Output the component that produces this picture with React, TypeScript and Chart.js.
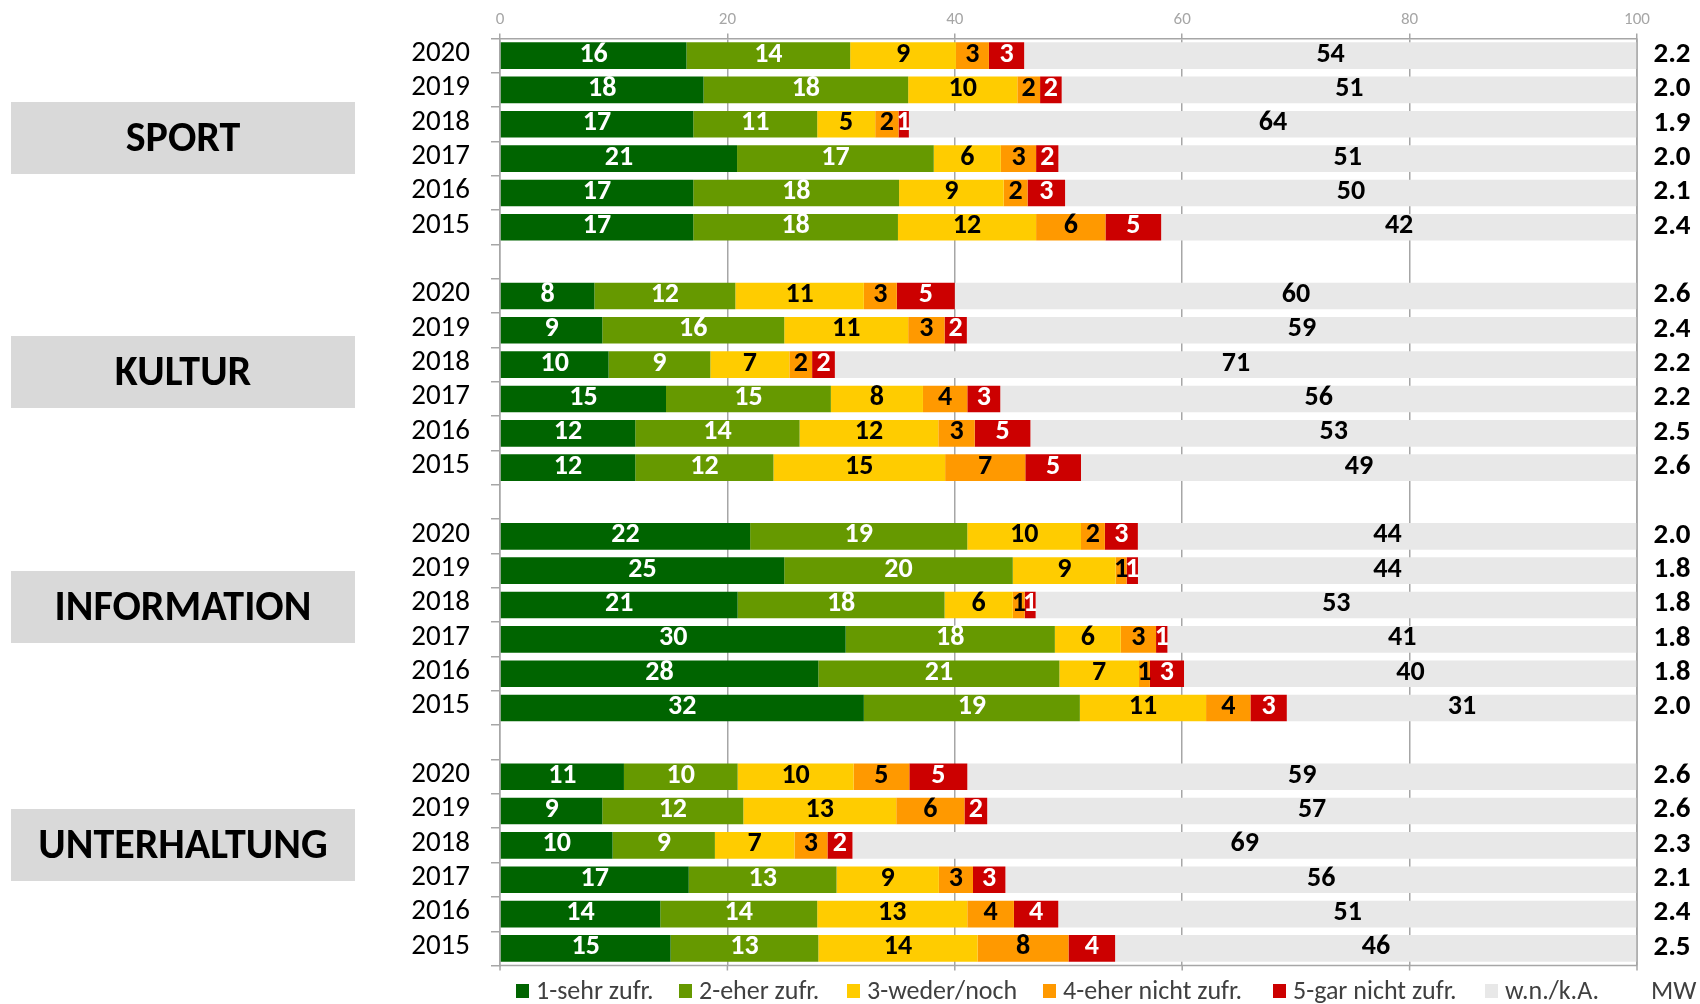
import React, { useEffect, useRef } from 'react';
import { Chart, registerables } from 'chart.js';

Chart.register(...registerables);

const FONT = 'Carlito, Lato, "Open Sans", sans-serif';

// ---------- data ----------
const groups = ['SPORT', 'KULTUR', 'INFORMATION', 'UNTERHALTUNG'];
const years = ['2020', '2019', '2018', '2017', '2016', '2015'];

// values in % (order: SPORT 2020..2015, KULTUR 2020..2015, INFORMATION ..., UNTERHALTUNG ...)
const sehrZufr = [
  16.4, 17.9, 17.0, 20.85, 17.0, 17.0,
  8.3, 9.0, 9.55, 14.6, 11.9, 11.9,
  22.0, 25.0, 20.9, 30.4, 28.0, 32.0,
  10.9, 9.0, 9.9, 16.6, 14.1, 15.0,
];
const eherZufr = [
  14.4, 18.0, 10.9, 17.3, 18.1, 18.0,
  12.4, 16.0, 8.95, 14.5, 14.45, 12.15,
  19.1, 20.1, 18.2, 18.4, 21.2, 19.0,
  10.0, 12.4, 9.0, 13.0, 13.8, 13.0,
];
const wederNoch = [
  9.3, 9.6, 5.1, 5.9, 9.2, 12.15,
  11.3, 10.9, 6.95, 8.1, 12.2, 15.1,
  10.0, 9.05, 6.0, 5.8, 7.0, 11.1,
  10.2, 13.45, 7.0, 9.0, 13.2, 14.0,
];
const eherNichtZufr = [
  2.9, 2.0, 2.05, 3.1, 2.1, 6.1,
  2.9, 3.2, 2.0, 3.9, 3.2, 7.05,
  2.1, 0.96, 1.05, 3.1, 0.96, 3.9,
  4.9, 6.0, 2.9, 3.0, 4.1, 8.0,
];
const garNichtZufr = [
  3.1, 1.9, 0.91, 1.96, 3.3, 4.9,
  5.1, 1.96, 2.0, 2.9, 4.9, 4.9,
  2.9, 1.0, 0.96, 1.0, 3.0, 3.2,
  5.1, 2.0, 2.2, 2.85, 3.9, 4.1,
];
const wnKA = [
  53.9, 50.6, 64.04, 50.89, 50.3, 41.85,
  60.0, 58.94, 70.55, 56.0, 53.35, 48.9,
  43.9, 43.89, 52.89, 41.3, 39.84, 30.8,
  58.9, 57.15, 69.0, 55.55, 50.9, 45.9,
];
const mwValues = [
  2.2, 2.0, 1.9, 2.0, 2.1, 2.4,
  2.6, 2.4, 2.2, 2.2, 2.5, 2.6,
  2.0, 1.8, 1.8, 1.8, 1.8, 2.0,
  2.6, 2.6, 2.3, 2.1, 2.4, 2.5,
];

const seriesNames = ['1-sehr zufr.', '2-eher zufr.', '3-weder/noch', '4-eher nicht zufr.', '5-gar nicht zufr.', 'w.n./k.A.'];
const mwLabel = 'MW';
const seriesData = [sehrZufr, eherZufr, wederNoch, eherNichtZufr, garNichtZufr, wnKA];

// ---------- styles ----------
const seriesColors = ['#006400', '#669900', '#ffcc00', '#ff9900', '#cc0000', '#e8e8e8'];
const labelColors = ['#ffffff', '#ffffff', '#000000', '#000000', '#ffffff', '#000000'];
const GRID = '#a6a6a6';

// layout constants (decorations, not data)
const BOX_LEFT = 11;
const BOX_WIDTH = 344;
const BOX_HEIGHT = 72;
const BOX_CENTER_Y = [138, 372, 607, 845];
const LEGEND_X = [516, 679, 847, 1043, 1273, 1485];
const LEGEND_MW_X = 1651;
const LEGEND_Y = 991;
const MW_X = 1672;
const TEXT_DY = -1;

// ---------- build rows (empty row between groups) ----------
const rowLabels: string[] = [];
const rowOfData: number[] = [];
groups.forEach((_, gi) => {
  if (gi > 0) rowLabels.push('');
  years.forEach((y) => {
    rowOfData.push(rowLabels.length);
    rowLabels.push(y);
  });
});
const expand = (arr: number[]) => {
  const out: (number | null)[] = rowLabels.map(() => null);
  arr.forEach((v, i) => {
    out[rowOfData[i]] = v;
  });
  return out;
};

const overlayPlugin = {
  id: 'overlay',
  afterDatasetsDraw(chart: any) {
    const ctx = chart.ctx as CanvasRenderingContext2D;
    const area = chart.chartArea;
    const xs = chart.scales.x;
    const ys = chart.scales.y;

    // plot border (right, bottom) and bottom ticks
    ctx.save();
    ctx.strokeStyle = GRID;
    ctx.lineWidth = 1.5;
    ctx.beginPath();
    ctx.moveTo(area.right, area.top);
    ctx.lineTo(area.right, area.bottom);
    ctx.moveTo(area.left, area.bottom);
    ctx.lineTo(area.right, area.bottom);
    for (let v = 0; v <= 100; v += 20) {
      const px = xs.getPixelForValue(v);
      ctx.moveTo(px, area.bottom);
      ctx.lineTo(px, area.bottom + 5);
    }
    ctx.stroke();
    ctx.restore();

    // data labels
    ctx.save();
    ctx.font = `bold 28px ${FONT}`;
    ctx.textAlign = 'center';
    ctx.textBaseline = 'middle';
    chart.data.datasets.forEach((ds: any, di: number) => {
      const meta = chart.getDatasetMeta(di);
      meta.data.forEach((el: any, i: number) => {
        const v = ds.data[i];
        if (v == null) return;
        const p = el.getProps(['x', 'base', 'y'], true);
        const cx = (p.x + p.base) / 2;
        ctx.fillStyle = labelColors[di];
        ctx.fillText(String(Math.round(v)), cx, p.y + TEXT_DY);
      });
    });

    // MW values
    ctx.fillStyle = '#000000';
    ctx.font = `bold 29px ${FONT}`;
    mwValues.forEach((v, i) => {
      const py = ys.getPixelForValue(rowOfData[i]);
      ctx.fillText(v.toFixed(1), MW_X, py + TEXT_DY);
    });
    ctx.restore();
  },
  afterDraw(chart: any) {
    const ctx = chart.ctx as CanvasRenderingContext2D;
    ctx.save();
    // category boxes
    groups.forEach((g, gi) => {
      const cy = BOX_CENTER_Y[gi];
      ctx.fillStyle = '#d9d9d9';
      ctx.fillRect(BOX_LEFT, cy - BOX_HEIGHT / 2, BOX_WIDTH, BOX_HEIGHT);
      ctx.fillStyle = '#000000';
      ctx.font = `bold 42px ${FONT}`;
      ctx.textAlign = 'center';
      ctx.textBaseline = 'middle';
      ctx.fillText(g, BOX_LEFT + BOX_WIDTH / 2, cy + 2);
    });
    // legend
    ctx.font = `26px ${FONT}`;
    ctx.textBaseline = 'middle';
    ctx.textAlign = 'left';
    seriesNames.forEach((name, i) => {
      const x = LEGEND_X[i];
      ctx.fillStyle = seriesColors[i];
      ctx.fillRect(x, LEGEND_Y - 7, 13, 14);
      ctx.fillStyle = '#404040';
      ctx.fillText(name, x + 20, LEGEND_Y + 1);
    });
    ctx.fillStyle = '#404040';
    ctx.fillText(mwLabel, LEGEND_MW_X, LEGEND_Y + 1);
    ctx.restore();
  },
};

export default function App() {
  const ref = useRef<HTMLCanvasElement>(null);
  useEffect(() => {
    const canvas = ref.current;
    if (!canvas) return;
    const chart = new Chart(canvas, {
      type: 'bar',
      data: {
        labels: rowLabels,
        datasets: seriesData.map((arr, i) => ({
          label: seriesNames[i],
          data: expand(arr),
          backgroundColor: seriesColors[i],
          borderWidth: 0,
          barPercentage: 0.775,
          categoryPercentage: 1,
        })),
      },
      options: {
        indexAxis: 'y',
        responsive: false,
        maintainAspectRatio: false,
        animation: false,
        devicePixelRatio: 1,
        layout: { padding: { left: 0, right: 63, top: 0, bottom: 38 } },
        plugins: {
          legend: { display: false },
          tooltip: { enabled: false },
        },
        scales: {
          x: {
            position: 'top',
            stacked: true,
            min: 0,
            max: 100,
            ticks: {
              stepSize: 20,
              color: GRID,
              font: { family: FONT, size: 17 },
              padding: 3,
            },
            grid: { color: GRID, lineWidth: 1.5, tickLength: 5, drawTicks: true },
            border: { display: true, color: GRID, width: 1.5 },
            afterFit: (s: any) => {
              s.height = 36;
            },
          },
          y: {
            stacked: true,
            ticks: {
              color: '#000000',
              font: { family: FONT, size: 29 },
              padding: 21,
              autoSkip: false,
              labelOffset: -2,
            },
            grid: { drawOnChartArea: false, tickLength: 9, color: GRID, lineWidth: 1.5, offset: true },
            border: { display: true, color: GRID, width: 1.5 },
            afterFit: (s: any) => {
              s.width = 500;
            },
          },
        },
      } as any,
      plugins: [overlayPlugin],
    });
    return () => chart.destroy();
  }, []);
  return (
    <div style={{ position: 'absolute', left: 0, top: 0, width: 1700, height: 1004, background: '#ffffff' }}>
      <canvas ref={ref} width={1700} height={1004} style={{ display: 'block', width: 1700, height: 1004 }} />
    </div>
  );
}
